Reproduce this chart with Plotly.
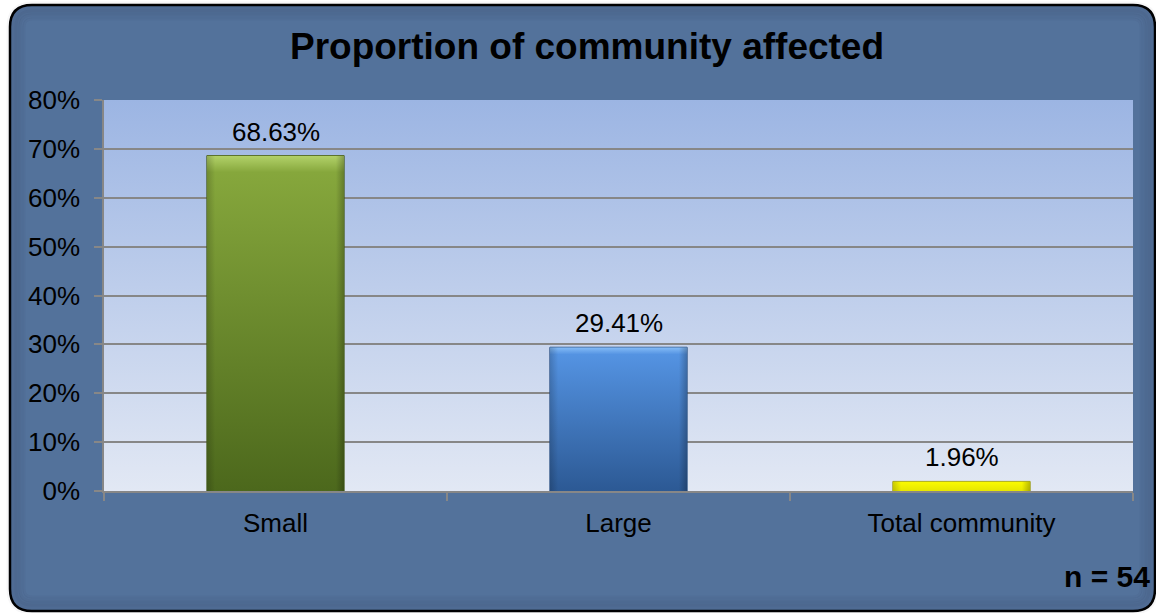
import base64
import plotly.graph_objects as go

# ---- data -----------------------------------------------------------------
categories = ["Small", "Large", "Total community"]
shares = [0.6863, 0.2941, 0.0196]
y_tick_values = [0.0, 0.1, 0.2, 0.3, 0.4, 0.5, 0.6, 0.7, 0.8]
y_tick_labels = ["0%", "10%", "20%", "30%", "40%", "50%", "60%", "70%", "80%"]
sample_size = 54
chart_title = "Proportion of community affected"

# ---- styling ----------------------------------------------------------------
W, H = 1156, 613
PLOT_L, PLOT_R, PLOT_T, PLOT_B = 104, 1133, 100, 491
FONT = "Arial, Liberation Sans, sans-serif"
GRID = "#878787"
FRAME_FILL = "#53729b"

# (highlight, top, bottom) shades for each bar
bar_shades = [
    ("#b3d26a", "#86a73c", "#4c681c"),
    ("#86bdf7", "#5493e2", "#2c5994"),
    ("#ffff70", "#fafa00", "#e6e600"),
]
bar_edges = ["#3f5516", "#23487a", "#8f8f00"]
bar_fill = ["#6b8a2d", "#4279c0", "#f2f200"]


def svg_uri(svg):
    return "data:image/svg+xml;base64," + base64.b64encode(svg.encode()).decode()


def vertical_gradient(stops, side_shade=False):
    parts = "".join(
        f'<stop offset="{o}" stop-color="{c}"/>' for o, c in stops
    )
    side_def = ""
    side_rect = ""
    if side_shade:
        side_def = (
            '<linearGradient id="s" x1="0" y1="0" x2="1" y2="0">'
            '<stop offset="0" stop-color="#000" stop-opacity="0.18"/>'
            '<stop offset="0.06" stop-color="#000" stop-opacity="0"/>'
            '<stop offset="0.94" stop-color="#000" stop-opacity="0"/>'
            '<stop offset="1" stop-color="#000" stop-opacity="0.25"/>'
            '</linearGradient>'
        )
        side_rect = '<rect width="100" height="100" fill="url(#s)"/>'
    return svg_uri(
        '<svg xmlns="http://www.w3.org/2000/svg" width="100" height="100" '
        'viewBox="0 0 100 100" preserveAspectRatio="none">'
        f'<defs><linearGradient id="g" x1="0" y1="0" x2="0" y2="1">{parts}</linearGradient>'
        f'{side_def}</defs>'
        '<rect width="100" height="100" fill="url(#g)"/>'
        f'{side_rect}</svg>'
    )


def px_x(p):
    return (p - PLOT_L) / (PLOT_R - PLOT_L)


def px_y(p):
    return (PLOT_B - p) / (PLOT_B - PLOT_T)


def rounded_path(left, right, top, bottom, r):
    return (
        f"M {px_x(left + r)},{px_y(top)} L {px_x(right - r)},{px_y(top)} "
        f"Q {px_x(right)},{px_y(top)} {px_x(right)},{px_y(top + r)} "
        f"L {px_x(right)},{px_y(bottom - r)} "
        f"Q {px_x(right)},{px_y(bottom)} {px_x(right - r)},{px_y(bottom)} "
        f"L {px_x(left + r)},{px_y(bottom)} "
        f"Q {px_x(left)},{px_y(bottom)} {px_x(left)},{px_y(bottom - r)} "
        f"L {px_x(left)},{px_y(top + r)} "
        f"Q {px_x(left)},{px_y(top)} {px_x(left + r)},{px_y(top)} Z"
    )


fig = go.Figure()

fig.add_trace(
    go.Bar(
        x=categories,
        y=shares,
        marker=dict(color=bar_fill, line=dict(color=bar_edges, width=1)),
        hoverinfo="x+y",
    )
)

bar_width = 0.4
images = [
    # plot-area background wash
    dict(
        source=vertical_gradient([(0, "#9cb5e3"), (1, "#e2e8f4")]),
        xref="x", yref="y",
        x=-0.5, y=y_tick_values[-1],
        sizex=len(categories), sizey=y_tick_values[-1],
        xanchor="left", yanchor="top",
        sizing="stretch", layer="below",
    )
]
for cat, val, (hi, top, bot) in zip(categories, shares, bar_shades):
    images.append(
        dict(
            source=vertical_gradient([(0, hi), (0.05, top), (1, bot)], side_shade=True),
            xref="x", yref="y",
            x=cat, y=val,
            sizex=bar_width, sizey=val,
            xanchor="center", yanchor="top",
            sizing="stretch", layer="above",
        )
    )

annotations = [
    dict(
        x=cat, y=val, xref="x", yref="y",
        text=f"{val * 100:.2f}%",
        showarrow=False, yanchor="middle", yshift=24,
        font=dict(family=FONT, size=26, color="#000000"),
    )
    for cat, val in zip(categories, shares)
]
annotations.append(
    dict(
        xref="paper", yref="paper",
        x=px_x(1152), y=px_y(576),
        xanchor="right", yanchor="middle",
        text=f"<b>n = {sample_size}</b>",
        showarrow=False,
        font=dict(family=FONT, size=30, color="#000000"),
    )
)

# rounded outer frame
shapes = [
    dict(
        type="path", path=rounded_path(10, 1155, 5, 611, 22),
        xref="paper", yref="paper",
        fillcolor=FRAME_FILL, line=dict(color="#000000", width=2.5),
        layer="below",
    ),
]
# soft inner shading that fades away from the frame edge
for inset in (2, 5, 8, 11, 14):
    shapes.append(
        dict(
            type="path",
            path=rounded_path(10 + inset, 1155 - inset, 5 + inset, 611 - inset,
                              max(22 - inset, 6)),
            xref="paper", yref="paper",
            fillcolor="rgba(0,0,0,0)",
            line=dict(color="rgba(20,35,60,0.035)", width=3 + 2 * (14 - inset) // 3),
            layer="below",
        )
    )

fig.update_layout(
    width=W, height=H,
    margin=dict(l=PLOT_L, r=W - PLOT_R, t=PLOT_T, b=H - PLOT_B, pad=0),
    paper_bgcolor="#ffffff",
    plot_bgcolor="rgba(0,0,0,0)",
    bargap=1 - bar_width,
    showlegend=False,
    title=dict(
        text=f"<b>{chart_title}</b>",
        x=587 / W, xref="container", xanchor="center",
        y=1 - 46 / H, yref="container", yanchor="middle",
        font=dict(family=FONT, size=37, color="#000000"),
    ),
    images=images,
    annotations=annotations,
    shapes=shapes,
    xaxis=dict(
        type="category",
        range=[-0.5, len(categories) - 0.5],
        tickson="boundaries",
        ticks="outside", ticklen=8, tickwidth=1.5, tickcolor=GRID,
        showline=True, linecolor=GRID, linewidth=1.5,
        showgrid=False,
        tickfont=dict(family=FONT, size=26, color="#000000"),
        ticklabelstandoff=8,
        fixedrange=True,
    ),
    yaxis=dict(
        range=[y_tick_values[0], y_tick_values[-1]],
        tickvals=y_tick_values, ticktext=y_tick_labels,
        ticks="outside", ticklen=8, tickwidth=1.5, tickcolor=GRID,
        showline=True, linecolor=GRID, linewidth=1.5,
        showgrid=True, gridcolor=GRID, gridwidth=1.5,
        zeroline=False,
        tickfont=dict(family=FONT, size=26, color="#000000"),
        ticklabelstandoff=9,
        fixedrange=True,
    ),
)

fig.write_html("out.html")
